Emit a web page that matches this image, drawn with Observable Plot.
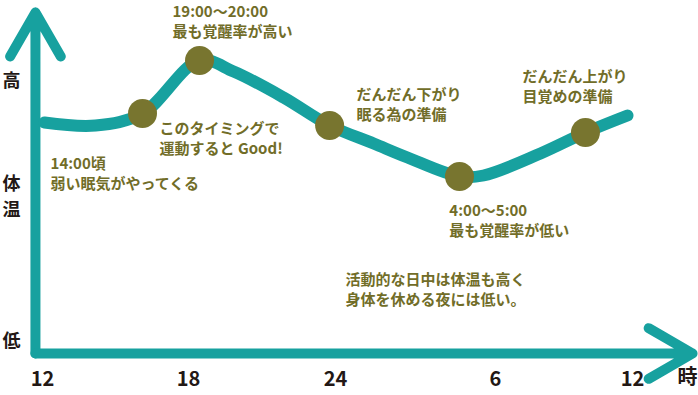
<!DOCTYPE html>
<html>
<head>
<meta charset="utf-8">
<script src="https://cdn.jsdelivr.net/npm/d3@7"></script>
<script src="https://cdn.jsdelivr.net/npm/@observablehq/plot@0.6"></script>
<style>
  html, body { margin: 0; padding: 0; background: #fff; }
  svg { display: block; }
</style>
</head>
<body>
<div id="chart"></div>
<script>
// Body temperature through the day (hours 12 → 36 = noon to next noon), relative level
const curveHours = [12.08, 14.18, 16.11, 18.45, 19.84, 21.88, 23.76, 25.43, 26.70, 28.65, 29.55, 31.97, 33.94, 35.78];
const curveLevel = [231, 228, 240, 293, 282, 256, 228, 210, 196, 177, 178, 200, 221, 238];

// Highlighted moments on the curve
const dotHours = [16.11, 18.45, 23.76, 28.65, 33.94];
const dotLevel = [240, 293, 228, 177, 221];

// X tick labels
const tickHours = [12, 18, 24, 30, 36];
const tickLabels = ["12", "18", "24", "6", "12"];
const unitLabel = "時";
const unitHour = 38.41;

// Y labels
const yLabels = ["高", "体", "温", "低"];
const yLabelLevel = [272, 169.5, 143, 12];

// Annotations (anchored in data units)
const noteTexts = [
  "19:00～20:00\n最も覚醒率が高い",
  "このタイミングで\n運動すると Good!",
  "14:00頃\n弱い眠気がやってくる",
  "だんだん下がり\n眠る為の準備",
  "だんだん上がり\n目覚めの準備",
  "4:00～5:00\n最も覚醒率が低い",
  "活動的な日中は体温も高く\n身体を休める夜には低い。"
];
const noteHours = [17.34, 16.81, 12.33, 24.79, 31.18, 28.27, 24.375];
const noteLevel = [333, 216, 181, 250, 268, 134, 64.5];

// Axis arrows (data units)
const originHour = 11.71, originLevel = 0, axisTopLevel = 341, axisEndHour = 38.63;

const TEAL = "#17a19f";
const OLIVE = "#78752f";
const OLIVE_TEXT = "#716d28";
const INK = "#231815";
const FONT = "'Noto Sans CJK JP', 'Noto Sans', sans-serif";

const curve = curveHours.map((h, i) => ({h, v: curveLevel[i]}));
const dots = dotHours.map((h, i) => ({h, v: dotLevel[i]}));
const ticks = tickHours.map((h, i) => ({h, t: tickLabels[i]}));
const ylabs = yLabels.map((t, i) => ({t, v: yLabelLevel[i]}));
const notes = noteTexts.map((t, i) => ({t, h: noteHours[i], v: noteLevel[i]}));

const chart = Plot.plot({
  width: 698,
  height: 395,
  marginTop: 0, marginRight: 0, marginBottom: 0, marginLeft: 0,
  style: {fontFamily: FONT, background: "#fff", overflow: "visible"},
  x: {type: "linear", domain: [12, 18, 24, 30, 36], range: [42, 188, 335, 495, 632], axis: null},
  y: {type: "linear", domain: [0, 300], range: [353, 53], axis: null},
  marks: [
    Plot.arrow([{x1: originHour, y1: originLevel, x2: originHour, y2: axisTopLevel}], {
      x1: "x1", y1: "y1", x2: "x2", y2: "y2",
      stroke: TEAL, strokeWidth: 10, headLength: 7.6, headAngle: 60,
      strokeLinecap: "round", strokeLinejoin: "round"
    }),
    Plot.arrow([{x1: originHour, y1: originLevel, x2: axisEndHour, y2: originLevel}], {
      x1: "x1", y1: "y1", x2: "x2", y2: "y2",
      stroke: TEAL, strokeWidth: 10, headLength: 7.6, headAngle: 60,
      strokeLinecap: "round", strokeLinejoin: "round"
    }),
    Plot.line(curve, {
      x: "h", y: "v", curve: "catmull-rom",
      stroke: TEAL, strokeWidth: 12, strokeLinecap: "round", strokeLinejoin: "round"
    }),
    Plot.dot(dots, {x: "h", y: "v", r: 14.5, fill: OLIVE, stroke: null}),
    Plot.text(ticks, {
      x: "h", text: "t", frameAnchor: "bottom", dy: -10,
      fontSize: 20, fontWeight: 700, fill: INK
    }),
    Plot.text([unitLabel], {
      x: () => unitHour, text: d => d, frameAnchor: "bottom", dy: -12,
      fontSize: 20, fontWeight: 700, fill: INK
    }),
    Plot.text(ylabs, {
      y: "v", text: "t", frameAnchor: "left", dx: 11, textAnchor: "middle",
      fontSize: 18, fontWeight: 700, fill: INK
    }),
    Plot.text(notes, {
      x: "h", y: "v", text: "t", textAnchor: "start", lineAnchor: "middle",
      lineHeight: 1.33, fontSize: 15, fontWeight: 700, fill: OLIVE_TEXT
    })
  ]
});
document.getElementById("chart").appendChild(chart);
</script>
</body>
</html>
